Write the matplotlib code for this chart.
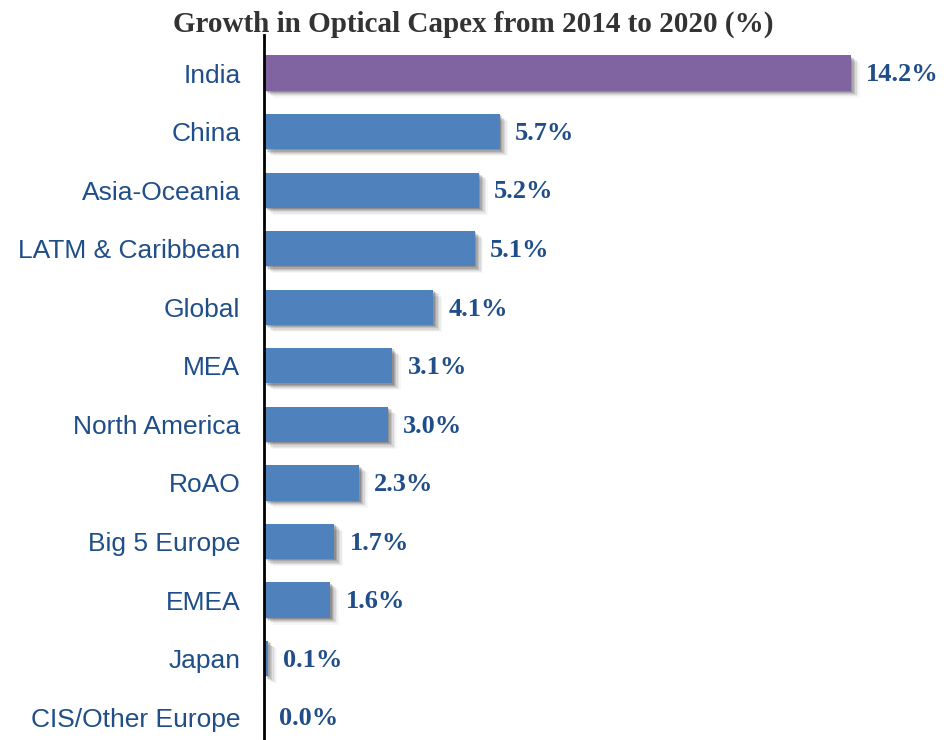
import matplotlib.pyplot as plt

# data
regions = ['India', 'China', 'Asia-Oceania', 'LATM & Caribbean', 'Global', 'MEA',
           'North America', 'RoAO', 'Big 5 Europe', 'EMEA', 'Japan', 'CIS/Other Europe']
growth = [14.2, 5.7, 5.2, 5.1, 4.1, 3.1, 3.0, 2.3, 1.7, 1.6, 0.1, 0.0]

blue = '#4F81BD'
purple = '#8064A2'
text_col = '#1F4E89'
colors = [purple if r == 'India' else blue for r in regions]

fig = plt.figure(figsize=(9.46, 7.4), dpi=100)
ax = fig.add_axes([264 / 946, 0, 1 - 264 / 946, 1 - 35 / 740])

ypos = list(range(len(regions)))
bars = ax.barh(ypos, growth, height=0.6, color=colors, zorder=3)

# soft drop shadow
for b in bars:
    if b.get_width() <= 0:
        continue
    for k, a in [(1, 0.16), (2, 0.13), (3, 0.10), (4, 0.07), (5, 0.05), (6, 0.03)]:
        sh = plt.Rectangle((b.get_x() + k * 0.035, b.get_y() + k * 0.02),
                           b.get_width(), b.get_height(),
                           color='black', alpha=a, lw=0, zorder=2)
        ax.add_patch(sh)

for y, v in zip(ypos, growth):
    ax.annotate(f'{v:.1f}%', (v, y + 0.03), xytext=(11, 0), textcoords='offset points',
                va='center', ha='left', fontsize=19, fontweight='bold',
                family='Liberation Serif', color=text_col)

ax.set_yticks(ypos)
ax.set_yticklabels(regions, fontsize=19, family='Liberation Sans', color=text_col)
ax.tick_params(axis='y', length=0, pad=17)
ax.set_xticks([])
ax.set_xlim(0, 16.5)
ax.set_ylim(11.39, -0.65)
for s in ['top', 'right', 'bottom']:
    ax.spines[s].set_visible(False)
ax.spines['left'].set_linewidth(2)
ax.spines['left'].set_zorder(4)

fig.text(0.5, 1 - 24 / 740, 'Growth in Optical Capex from 2014 to 2020 (%)',
         ha='center', va='center', fontsize=21, fontweight='bold',
         family='Liberation Serif', color='#333333')

fig.savefig('out.png', dpi=100)
